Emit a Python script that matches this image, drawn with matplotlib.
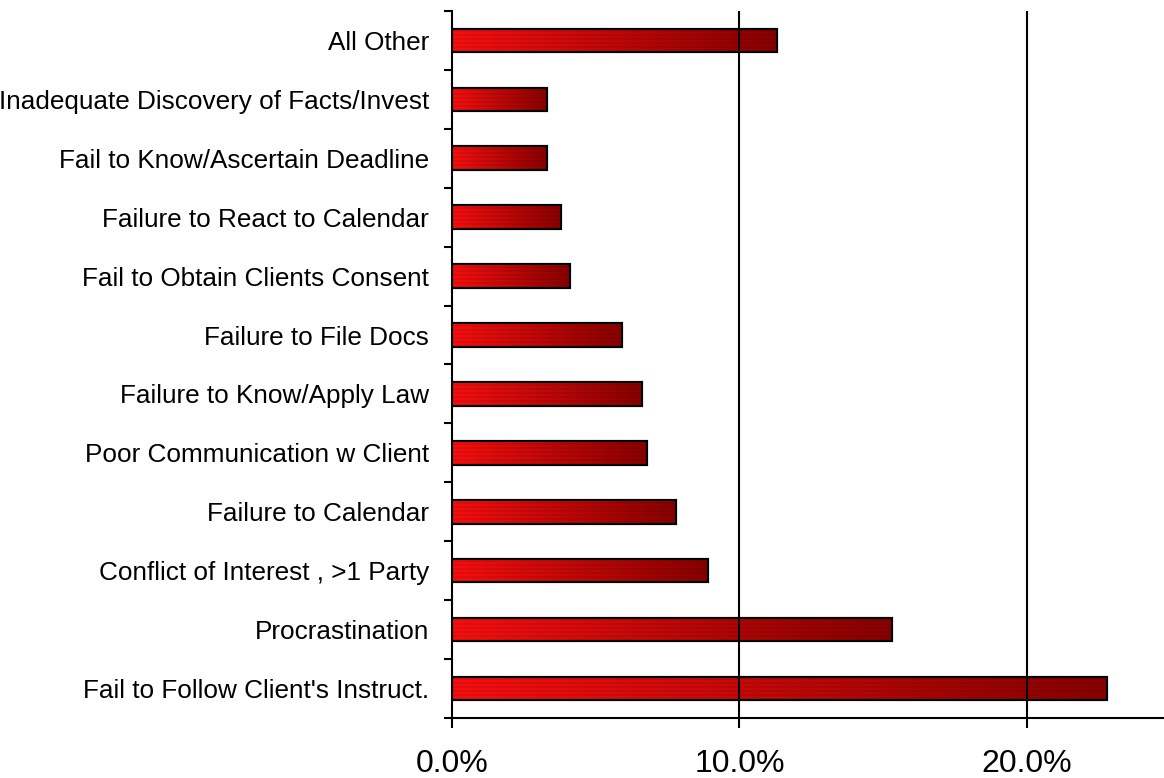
import matplotlib
matplotlib.use("Agg")
import matplotlib.pyplot as plt
from matplotlib.ticker import FixedLocator, PercentFormatter
import numpy as np

# categories bottom -> top, share of claims in %
causes = [
    "Fail to Follow Client's Instruct.",
    "Procrastination",
    "Conflict of Interest , >1 Party",
    "Failure to Calendar",
    "Poor Communication w Client",
    "Failure to Know/Apply Law",
    "Failure to File Docs",
    "Fail to Obtain Clients Consent",
    "Failure to React to Calendar",
    "Fail to Know/Ascertain Deadline",
    "Inadequate Discovery of Facts/Invest",
    "All Other",
]
shares = [22.8, 15.3, 8.9, 7.8, 6.8, 6.6, 5.9, 4.1, 3.8, 3.3, 3.3, 11.3]
xticks = [0, 10, 20]

plt.rcParams['font.family'] = ['Liberation Sans', 'DejaVu Sans']

fig = plt.figure(figsize=(11.64, 7.78), dpi=100)
ax = fig.add_axes([0.3883, 0.0771, 0.6117, 0.9088])

ypos = np.arange(len(causes))
bars = ax.barh(ypos, shares, height=0.4, color='#e00000',
               edgecolor='black', linewidth=1.5, zorder=2)

# red -> dark red gradient with fine horizontal stripes, clipped to each bar
nx, ny = 200, 12
grad = np.linspace(0, 1, nx)
r = 1.0 - 0.45 * grad
img = np.zeros((ny, nx, 3))
for row in range(ny):
    k = 1.0 if row % 2 == 0 else 0.86
    img[row, :, 0] = r * k
    img[row, :, 1] = 0.06 * (1 - grad) * k
    img[row, :, 2] = 0.06 * (1 - grad) * k

for b in bars:
    x0, y0 = b.get_x(), b.get_y()
    w, h = b.get_width(), b.get_height()
    im = ax.imshow(img, extent=(x0, x0 + w, y0, y0 + h), aspect='auto',
                   interpolation='bilinear', zorder=2.5)
    im.set_clip_path(b)

# border on top of the gradient
ax.barh(ypos, shares, height=0.4, facecolor='none',
        edgecolor='black', linewidth=1.5, zorder=3)

ax.set_xlim(0, 24.77)
ax.set_ylim(-0.5, len(causes) - 0.5)

for xv in xticks[1:]:
    ax.axvline(xv, color='black', linewidth=1.5, zorder=4)

ax.set_xticks(xticks)
ax.xaxis.set_major_formatter(PercentFormatter(decimals=1))
ax.tick_params(axis='x', length=7.5, width=1.5, pad=15, labelsize=23)

ax.set_yticks(ypos)
ax.set_yticklabels(causes)
ax.yaxis.set_minor_locator(FixedLocator(np.arange(-0.5, len(causes), 1.0)))
ax.tick_params(axis='y', which='major', length=0, pad=16.5, labelsize=18.8)
ax.tick_params(axis='y', which='minor', length=6, width=1.5)

for s in ['top', 'right']:
    ax.spines[s].set_visible(False)
for s in ['left', 'bottom']:
    ax.spines[s].set_linewidth(1.5)
    ax.spines[s].set_zorder(5)

fig.savefig('out.png', dpi=100)
